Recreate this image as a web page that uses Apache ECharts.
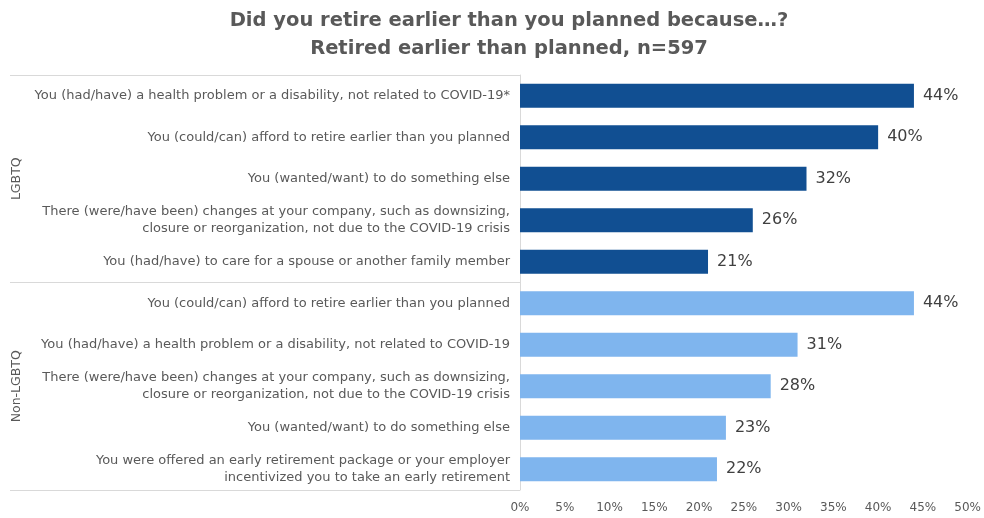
<!DOCTYPE html>
<html><head><meta charset="utf-8">
<script src="https://cdn.jsdelivr.net/npm/echarts@6/dist/echarts.min.js"></script>
<style>html,body{margin:0;padding:0;background:#fff}#c{width:984px;height:518px}</style>
</head><body><div id="c"></div>
<script>
const titleText = 'Did you retire earlier than you planned because…?\nRetired earlier than planned, n=597';
const groups = ['LGBTQ', 'Non-LGBTQ'];
const lgbtqLabels = [
  'You (had/have) a health problem or a disability, not related to COVID-19*',
  'You (could/can) afford to retire earlier than you planned',
  'You (wanted/want) to do something else',
  'There (were/have been) changes at your company, such as downsizing,\nclosure or reorganization, not due to the COVID-19 crisis',
  'You (had/have) to care for a spouse or another family member'
];
const lgbtqValues = [44, 40, 32, 26, 21];
const nonLgbtqLabels = [
  'You (could/can) afford to retire earlier than you planned',
  'You (had/have) a health problem or a disability, not related to COVID-19',
  'There (were/have been) changes at your company, such as downsizing,\nclosure or reorganization, not due to the COVID-19 crisis',
  'You (wanted/want) to do something else',
  'You were offered an early retirement package or your employer\nincentivized you to take an early retirement'
];
const nonLgbtqValues = [44, 31, 28, 23, 22];
const xTicks = [0, 5, 10, 15, 20, 25, 30, 35, 40, 45, 50];

const allLabels = lgbtqLabels.concat(nonLgbtqLabels);
const keys = allLabels.map((_, i) => 'k' + i);
const darkBlue = '#114F92', lightBlue = '#7FB5EE';
const data = lgbtqValues.map(v => ({value: v, itemStyle: {color: darkBlue}}))
  .concat(nonLgbtqValues.map(v => ({value: v, itemStyle: {color: lightBlue}})));

const fontFam = '"DejaVu Sans", sans-serif';
const chart = echarts.init(document.getElementById('c'), null, {renderer: 'canvas'});
chart.setOption({
  animation: false,
  title: {
    text: titleText, left: 504, textAlign: 'center', top: 2,
    textStyle: {fontFamily: fontFam, fontSize: 19.5, fontWeight: 'bold', color: '#595959', lineHeight: 28}
  },
  grid: {left: 520, right: 16, top: 75, bottom: 28, containLabel: false},
  xAxis: {
    type: 'value', min: 0, max: 50, interval: 5,
    axisLine: {show: false}, axisTick: {show: false}, splitLine: {show: false},
    axisLabel: {formatter: v => xTicks.indexOf(v) >= 0 ? v + '%' : '', color: '#595959', fontFamily: fontFam, fontSize: 12, margin: 12}
  },
  yAxis: [{
    type: 'category', inverse: true, data: keys,
    axisLine: {show: true, lineStyle: {color: '#d9d9d9', width: 1}},
    axisTick: {show: false},
    axisLabel: {formatter: (v) => allLabels[keys.indexOf(v)], color: '#595959', fontFamily: fontFam, fontSize: 13, margin: 10, align: 'right', lineHeight: 17}
  }, {
    type: 'category', inverse: true, data: groups, position: 'left',
    axisLine: {show: false},
    axisTick: {show: true, length: 510, lineStyle: {color: '#d9d9d9', width: 1}},
    axisLabel: {rotate: 90, margin: 497, color: '#595959', fontFamily: fontFam, fontSize: 12.5}
  }],
  series: [{
    type: 'bar', yAxisIndex: 0, data: data, barWidth: 24,
    label: {show: true, position: 'right', distance: 9, formatter: '{c}%', color: '#404040', fontFamily: fontFam, fontSize: 16}
  }]
});
</script></body></html>
